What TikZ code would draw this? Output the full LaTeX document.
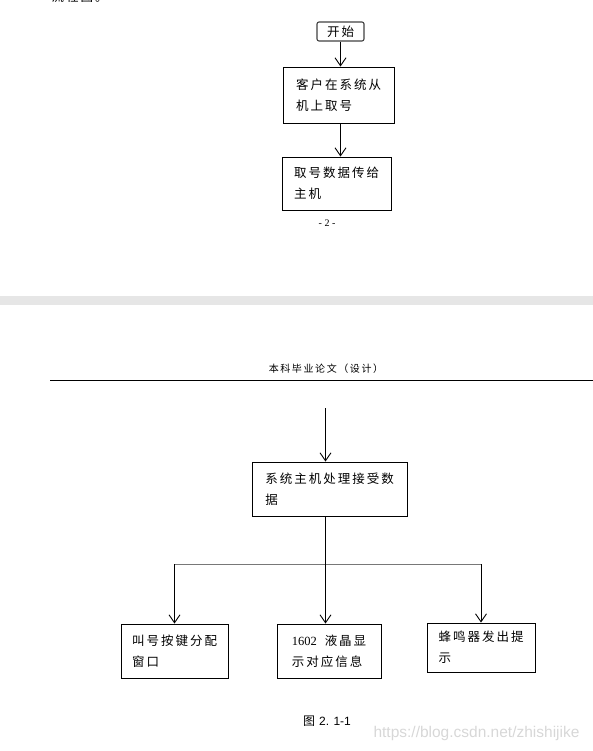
\documentclass[tikz,border=0pt]{standalone}
\usepackage{fontspec}
\setmainfont{Liberation Serif}
\newfontfamily\cjk[LetterSpace=16]{Noto Sans CJK SC}
\newfontfamily\cjkplain{Noto Sans CJK SC}
\newfontfamily\urlfont{Liberation Sans}
\usetikzlibrary{arrows.meta}
\definecolor{bandgray}{RGB}{230,230,230}
\definecolor{markgray}{RGB}{215,215,215}
\definecolor{linegray}{RGB}{120,120,120}

\begin{document}
\begin{tikzpicture}[x=1pt, y=-1pt,
    box/.style={draw, line width=0.9pt, inner sep=0pt, align=left,
                font=\cjk\fontsize{12.5}{21}\selectfont},
    arr/.style={line width=0.9pt,
                -{Straight Barb[length=8pt, width=11pt, line width=0.9pt]}}]
  \clip (0,0) rectangle (593,751);

  % page 2 (bottom of it)
  \node[anchor=west, font=\cjk\fontsize{12.5}{15}\selectfont] (intro) at (48,-3) {流程图。};
  \node[box, rounded corners=2pt, draw=black!75, line width=1.1pt,
        minimum width=47pt, minimum height=19pt] (start) at (340.5,31.5) {开始};
  \node[box, minimum width=111pt, minimum height=56pt] (cust) at (338.5,95)
        {客户在系统从\\机上取号};
  \node[box, minimum width=109pt, minimum height=53pt] (send) at (336.5,183.5)
        {取号数据传给\\主机};
  \node[font=\fontsize{10}{12}\selectfont] (pageno) at (327,223) {- 2 -};

  \draw[arr] (start) -- (start |- cust.north);
  \draw[arr] (start |- cust.south) -- (start |- send.north);

  % gap between the pages
  \fill[bandgray] (0,296) rectangle (593,305);

  % page 3
  \node[font=\cjk\fontsize{10}{12}\selectfont] (header) at (326,369) {本科毕业论文（设计）};
  \draw[line width=0.8pt] (50,380) -- (593,380);

  \coordinate (in) at (325.5,408);
  \node[box, minimum width=155pt, minimum height=54pt] (sys) at (329.5,489)
        {系统主机处理接受数\\据};
  \node[box, minimum width=107pt, minimum height=54pt] (call) at (174.5,651)
        {叫号按键分配\\窗口};
  \node[box, minimum width=104pt, minimum height=54pt] (lcd) at (329,651)
        {{\rmfamily 1602}\hspace{8pt}液晶显\\示对应信息};
  \node[box, minimum width=108pt, minimum height=49pt] (buzz) at (481,647.5)
        {蜂鸣器发出提\\示};

  \coordinate (split) at (325.5,564);
  \coordinate (left) at (call |- split);
  \coordinate (right) at (buzz |- split);

  \draw[arr] (in) -- (in |- sys.north);
  \draw[line width=0.9pt] (in |- sys.south) -- (split);
  \draw[line width=0.9pt, draw=linegray] (left) -- (right);
  \draw[arr] (left) -- (call.north);
  \draw[arr] (split) -- (split |- lcd.north);
  \draw[arr] (right) -- (buzz.north);

  \node[font=\cjkplain\fontsize{12}{14}\selectfont] (caption) at (327,721)
        {图\hspace{4pt}{\urlfont 2. 1-1}};
  \node[anchor=west, text=markgray, font=\urlfont\fontsize{15.5}{18}\selectfont] (mark)
        at (370,733) {https://blog.csdn.net/zhishijike};
\end{tikzpicture}
\end{document}
